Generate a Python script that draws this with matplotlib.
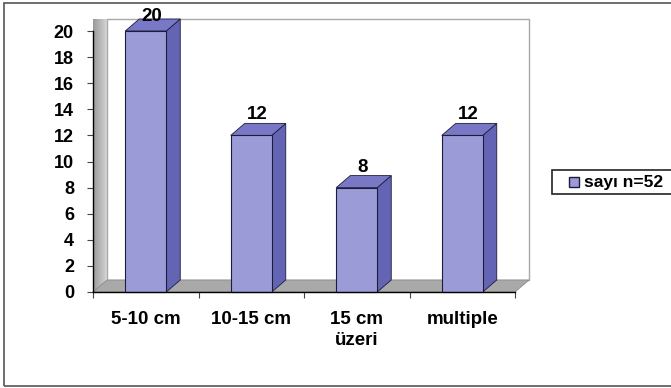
import numpy as np
import matplotlib.pyplot as plt
from matplotlib.patches import Polygon, Rectangle
from matplotlib.colors import LinearSegmentedColormap

plt.rcParams['font.family'] = ['Liberation Sans', 'DejaVu Sans']
plt.rcParams['font.weight'] = 'bold'

categories = ['5-10 cm', '10-15 cm', '15 cm\nüzeri', 'multiple']
counts = [20, 12, 8, 12]
series_name = 'say\u0131 n=52'
yticks = list(range(0, 21, 2))

W, H = 671, 388
fig = plt.figure(figsize=(W / 100, H / 100), dpi=100)
fig.patch.set_facecolor('white')

# plot area in pixels: x axis 93..515, y axis 31 (top=20) .. 292 (zero)
ax = fig.add_axes([93 / W, (H - 292) / H, (515 - 93) / W, (292 - 31) / H])
ax.patch.set_visible(False)

# depth of the fake 3d effect, in data units
dx = 14 / 105.5
dy = 12 / 13.05

front_c = '#9b9bd8'
side_c = '#6464b4'
top_c = '#7878c6'
edge_c = '#1c1c3c'

n = len(categories)
ytop = 20

# back wall
wall = Polygon([(dx, dy), (n + dx, dy), (n + dx, ytop + dy), (dx, ytop + dy)],
               closed=True, facecolor='white', edgecolor='#a8a8a8', lw=1.0,
               zorder=0, clip_on=False)
ax.add_patch(wall)

# left side wall with a grey gradient
side = Polygon([(0, 0), (0, ytop), (dx, ytop + dy), (dx, dy)], closed=True,
               facecolor='none', edgecolor='none', zorder=1, clip_on=False)
ax.add_patch(side)
grad = np.linspace(0, 1, 50).reshape(1, -1)
im = ax.imshow(grad, extent=[0, dx, 0, ytop + dy], aspect='auto',
               cmap=LinearSegmentedColormap.from_list('g', ['#9a9a9a', '#d4d4d4']),
               zorder=1, clip_on=False)
im.set_clip_path(side)

# floor
floor = Polygon([(0, 0), (n, 0), (n + dx, dy), (dx, dy)], closed=True,
                facecolor='#a9a9a9', edgecolor='#8a8a8a', lw=0.6,
                zorder=2, clip_on=False)
ax.add_patch(floor)

bar_w = 41 / 105.5
for i, v in enumerate(counts):
    x0 = i + 0.5 - bar_w / 2
    x1 = x0 + bar_w
    ax.add_patch(Polygon([(x1, 0), (x1 + dx, dy), (x1 + dx, v + dy), (x1, v)],
                         closed=True, facecolor=side_c, edgecolor=edge_c,
                         lw=0.6, zorder=3, clip_on=False))
    ax.add_patch(Polygon([(x0, v), (x1, v), (x1 + dx, v + dy), (x0 + dx, v + dy)],
                         closed=True, facecolor=top_c, edgecolor=edge_c,
                         lw=0.6, zorder=3, clip_on=False))
    ax.add_patch(Rectangle((x0, 0), bar_w, v, facecolor=front_c,
                           edgecolor=edge_c, lw=0.8, zorder=4, clip_on=False))
    # keep the tallest label inside the chart frame
    ly = min(v + dy, 20.46)
    ax.text(i + 0.5 + dx * 0.4, ly, str(v), ha='center', va='bottom',
            fontsize=13.5, fontweight='bold', zorder=6, clip_on=False)

ax.set_xlim(0, n)
ax.set_ylim(0, 20)

for s in ['top', 'right']:
    ax.spines[s].set_visible(False)
for s in ['left', 'bottom']:
    ax.spines[s].set_color('black')
    ax.spines[s].set_linewidth(1.0)
    ax.spines[s].set_zorder(5)

ax.set_yticks(yticks)
ax.set_yticklabels([str(t) for t in yticks], fontweight='bold')
ax.tick_params(axis='y', direction='out', length=4.3, width=0.8,
               pad=9.4, labelsize=13, color='#444444')

ax.set_xticks(np.arange(n + 1))
ax.set_xticklabels([])
ax.set_xticks(np.arange(n) + 0.5, minor=True)
ax.set_xticklabels(categories, minor=True, fontsize=13.5, fontweight='bold',
                   linespacing=1.3)
ax.tick_params(axis='x', which='major', direction='out', length=4.3,
               width=0.8, color='#444444')
ax.tick_params(axis='x', which='minor', length=0, pad=13.5)

# legend box at the right edge
lx0, ly0, ly1 = 552, 170, 194
fig.patches.append(Rectangle((lx0 / W, 1 - ly1 / H), (W + 10 - lx0) / W,
                             (ly1 - ly0) / H, transform=fig.transFigure,
                             facecolor='white', edgecolor='#222222',
                             lw=1.2, zorder=5))
fig.patches.append(Rectangle((569 / W, 1 - 187 / H), 10 / W, 10 / H,
                             transform=fig.transFigure, facecolor=front_c,
                             edgecolor=edge_c, lw=1.0, zorder=6))
fig.text(584 / W, 1 - 182 / H, series_name, ha='left', va='center',
         fontsize=12.5, fontweight='bold', zorder=7)

# outer chart border
fig.patches.append(Rectangle((4 / W, 1 - 386 / H), (W + 10) / W,
                             (386 - 3) / H, transform=fig.transFigure,
                             facecolor='none', edgecolor='#555555', lw=1.2,
                             zorder=0))

fig.savefig('out.png', dpi=100)
